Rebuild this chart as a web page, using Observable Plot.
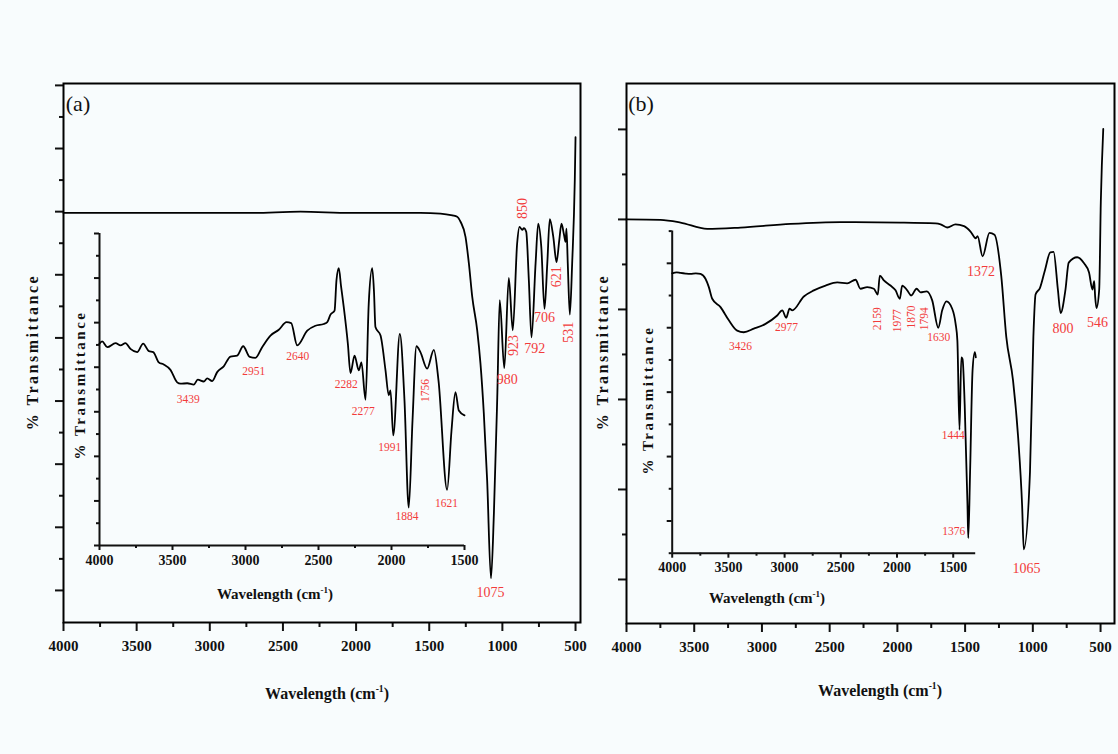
<!DOCTYPE html>
<html><head><meta charset="utf-8">
<script src="https://cdn.jsdelivr.net/npm/d3@7"></script>
<script src="https://cdn.jsdelivr.net/npm/@observablehq/plot@0.6"></script>
<style>
body{margin:0;background:#f8fcfd;}
#wrap{position:relative;width:1118px;height:754px;overflow:hidden;background:#f8fcfd;font-family:"Liberation Serif",serif;color:#111;}
.layer{position:absolute;left:0;top:0;width:1118px;height:754px;}
.t{position:absolute;white-space:nowrap;font-weight:bold;transform:translate(-50%,-50%);}
.rot{transform:translate(-50%,-50%) rotate(-90deg);letter-spacing:2.5px;}
.pl{position:absolute;font-size:22px;transform:translate(-50%,-50%);}
sup{font-size:0.6em;}
</style></head><body>
<div id="wrap">
  <div class="layer" id="mainA"></div>
  <div class="layer" id="insetA"></div>
  <div class="layer" id="mainB"></div>
  <div class="layer" id="insetB"></div>
  <div class="pl" style="left:78px;top:104px">(a)</div>
  <div class="pl" style="left:641px;top:104px">(b)</div>
  <div class="t rot" style="left:33px;top:352px;font-size:16px">% Transmittance</div>
  <div class="t rot" style="left:603px;top:352px;font-size:16px">% Transmittance</div>
  <div class="t rot" style="left:80px;top:385px;font-size:15px">% Transmittance</div>
  <div class="t rot" style="left:648px;top:400px;font-size:15px">% Transmittance</div>
  <div class="t" style="left:327px;top:693px;font-size:16px">Wavelength (cm<sup>-1</sup>)</div>
  <div class="t" style="left:880px;top:690px;font-size:16px">Wavelength (cm<sup>-1</sup>)</div>
  <div class="t" style="left:275px;top:594px;font-size:15px">Wavelength (cm<sup>-1</sup>)</div>
  <div class="t" style="left:767px;top:598px;font-size:15px">Wavelength (cm<sup>-1</sup>)</div>
</div>
<script>
// ---------- DATA ----------
// Panel (a) main spectrum
const aMainWn = [4000,3405,2722,2380,2038,1560,1423,1341,1309,1286,1252,1229,1206,1172,1150,1127,1104,1078,1058,1035,1018,987,956,929,899,883,864,853,837,819,801,773,755,734,712,693,676,652,630,611,596,580,568,562,553,539,523,505,500];
const aMainT  = [59.8,59.8,59.8,60.0,59.8,59.8,59.7,59.4,59.2,58.4,56.0,51.8,46.5,41.2,36.0,28.1,17.4,1.9,12.2,30.6,46.0,35.2,49.5,41.2,55.0,57.6,57.1,57.4,56.8,49.1,40.1,51.8,58.1,54.4,44.6,51.8,58.8,56.0,52.0,55.5,58.1,56.5,55.2,57.3,51.8,43.7,51.8,65.0,71.8];
// Panel (a) inset spectrum
const aInsetWn = [4000,3982,3947,3890,3856,3822,3788,3742,3701,3662,3632,3594,3560,3514,3468,3445,3399,3354,3327,3286,3262,3228,3194,3149,3103,3057,3016,2971,2932,2886,2829,2772,2719,2687,2646,2577,2521,2464,2440,2418,2390,2377,2361,2345,2327,2299,2281,2253,2224,2206,2178,2156,2132,2120,2110,2075,2041,2019,2007,1988,1943,1911,1882,1856,1829,1802,1756,1710,1678,1619,1589,1562,1539,1500];
const aInsetT  = [45.3,45.8,44.5,45.4,44.9,45.4,44.1,43.4,45.3,43.6,43.4,41.1,40.6,39.4,36.6,36.3,36.4,36.1,37.2,36.8,37.5,36.9,38.9,40.2,42.4,42.6,44.7,42.3,42.1,44.5,47.1,48.4,50.1,49.9,44.9,48.2,49.3,49.7,50.1,51.8,52.7,59.5,62.2,58.0,53.5,45.3,38.7,42.6,39.3,41.1,32.7,54.2,62.2,57.0,49.0,47.1,39.3,33.7,34.8,24.7,47.5,32.5,8.5,28.1,44.7,43.4,39.7,43.9,37.0,12.5,25.8,34.4,30.3,29.2];
// Panel (b) main spectrum
const bMainWn = [4000,3749,3601,3404,3158,2789,2420,1977,1718,1681,1632,1571,1508,1460,1421,1408,1371,1320,1283,1233,1196,1146,1108,1079,1067,1021,996,980,947,909,871,847,815,795,759,735,672,623,585,560,547,540,530,510,498,480];
const bMainT  = [80.0,79.9,79.3,77.9,78.2,79.0,79.4,79.3,79.1,78.9,78.2,78.9,78.5,77.3,75.8,76.3,71.8,77.0,76.6,67.4,53.9,44.2,31.4,16.4,6.7,23.9,53.9,63.3,64.8,68.9,72.7,72.8,64.4,59.2,64.4,70.4,71.6,70.3,68.2,64.4,66.3,62.9,60.3,64.4,84.0,100.1];
// Panel (b) inset spectrum
const bInsetWn = [4000,3960,3926,3880,3837,3790,3748,3704,3674,3644,3570,3496,3422,3363,3274,3170,3066,3021,2986,2956,2932,2829,2740,2636,2532,2443,2369,2325,2265,2206,2171,2153,2117,2058,2013,1975,1954,1909,1874,1826,1791,1737,1687,1633,1598,1560,1509,1479,1463,1444,1428,1417,1398,1373,1366,1350,1328,1308,1299];
const bInsetT  = [86.9,87.2,87.0,86.8,86.7,86.9,86.7,85.2,82.6,79.0,76.4,72.3,69.1,68.6,69.7,71.2,73.8,75.4,73.1,75.9,75.4,79.7,81.6,83.1,84.1,83.8,84.9,82.1,82.6,82.1,80.3,86.2,84.7,83.1,81.6,79.0,83.1,81.6,80.0,82.1,81.0,81.3,78.5,70.0,75.4,78.2,75.9,71.3,66.0,38.3,60.8,60.3,46.2,14.8,4.7,25.2,56.7,62.4,60.8];

// Peak annotations: label, anchor wavenumber, anchor transmittance, rotated?
const aMainPeaks   = ["1075","980","923","850","792","706","621","531"];
const aMainPeakX   = [1081,967,922,864,778,712,630,546];
const aMainPeakY   = [-0.3,33.4,38.8,60.5,38.3,43.2,49.7,40.9];
const aMainPeakRot = [false,false,true,true,false,false,true,true];

const aInsetPeaks   = ["3439","2951","2640","2282","2277","1991","1884","1756","1621"];
const aInsetPeakX   = [3392,2943,2642,2310,2194,2012,1893,1767,1623];
const aInsetPeakY   = [32.8,39.0,42.4,36.1,30.1,22.1,6.5,34.8,9.5];
const aInsetPeakRot = [false,false,false,false,false,false,false,true,false];

const bMainPeaks   = ["1372","1065","800","546"];
const bMainPeakX   = [1383,1046,777,522];
const bMainPeakY   = [68.5,2.5,55.8,57.1];

const bInsetPeaks   = ["3426","2977","2159","1977","1870","1794","1630","1444","1376"];
const bInsetPeakX   = [3392,2983,2171,1993,1874,1761,1628,1500,1495];
const bInsetPeakY   = [64.2,70.0,72.8,72.2,73.3,72.8,66.9,36.5,6.7];
const bInsetPeakRot = [false,false,true,true,true,true,false,false,false];

// Tick values
const mainXMajor  = [4000,3500,3000,2500,2000,1500,1000,500];
const mainXMinor  = [3750,3250,2750,2250,1750,1250,750];
const insetXMajor = [4000,3500,3000,2500,2000,1500];
const insetXMinor = [3750,3250,2750,2250,1750];
const aMainYMajor = [0,10,20,30,40,50,60,70,80];
const aMainYMinor = [5,15,25,35,45,55,65,75];
const bMainYMajor = [0,20,40,60,80,100];
const bMainYMinor = [10,30,50,70,90];
const aInsetYMajor = [0,10,20,30,40,50,60,70];
const aInsetYMinor = [5,15,25,35,45,55,65];
const bInsetYMajor = [10,30,50,70,90];
const bInsetYMinor = [0,20,40,60,80,100];

// ---------- DRAWING ----------
const W = 1118, H = 754;
const RED = "#f23b3b";
const FONT = "Liberation Serif";
const toRows = (wn, t) => wn.map((w, i) => ({w, t: t[i]}));
const blank = () => "";

function peakMarks(labels, xs, ys, rots, size) {
  const idx = d3.range(labels.length);
  const horiz = idx.filter(i => !(rots && rots[i]));
  const vert = idx.filter(i => rots && rots[i]);
  const common = {x: i => xs[i], y: i => ys[i], text: i => labels[i], fill: RED, fontSize: size, fontFamily: FONT};
  return [Plot.text(horiz, common), Plot.text(vert, {...common, rotate: -90})];
}

function panel(cfg) {
  return Plot.plot({
    width: W, height: H,
    marginLeft: cfg.left, marginRight: W - cfg.right, marginTop: cfg.top, marginBottom: H - cfg.bottom,
    style: {background: "transparent", overflow: "visible", color: "#111"},
    x: {domain: cfg.xDomain, axis: null},
    y: {domain: cfg.yDomain, axis: null},
    marks: [
      Plot.axisX(cfg.xMinor, {tickSize: cfg.xMinorSize, tickFormat: blank, strokeWidth: 2, label: null}),
      Plot.axisX(cfg.xMajor, {tickSize: cfg.xMajorSize, tickPadding: cfg.pad, tickFormat: d => String(d), strokeWidth: 2,
        fontSize: cfg.tickFont, fontWeight: "bold", fontFamily: FONT, label: null}),
      Plot.axisY(cfg.yMinor, {tickSize: cfg.yMinorSize, tickFormat: blank, strokeWidth: 2, label: null}),
      Plot.axisY(cfg.yMajor, {tickSize: cfg.yMajorSize, tickFormat: blank, strokeWidth: 2, label: null}),
      ...(cfg.frame ? [Plot.frame({stroke: "#000", strokeWidth: 2})]
                    : [Plot.ruleX([cfg.xDomain[0]], {strokeWidth: 2}), Plot.ruleY([cfg.yDomain[0]], {strokeWidth: 2})]),
      Plot.line(cfg.rows, {x: "w", y: "t", curve: "monotone-x", stroke: "#000", strokeWidth: 1.8}),
      ...cfg.labels
    ]
  });
}

document.getElementById("mainA").append(panel({
  left: 63, right: 580, top: 83, bottom: 622, frame: true,
  xDomain: [4000, 466], yDomain: [-5.08, 80.3],
  xMajor: mainXMajor, xMinor: mainXMinor, xMajorSize: 9, xMinorSize: 5, pad: 9, tickFont: 15,
  yMajor: aMainYMajor, yMinor: aMainYMinor, yMajorSize: 8, yMinorSize: 4,
  rows: toRows(aMainWn, aMainT),
  labels: peakMarks(aMainPeaks, aMainPeakX, aMainPeakY, aMainPeakRot, 14)
}));

document.getElementById("insetA").append(panel({
  left: 99, right: 464, top: 233, bottom: 545, frame: false,
  xDomain: [4000, 1500], yDomain: [0, 70],
  xMajor: insetXMajor, xMinor: insetXMinor, xMajorSize: 5, xMinorSize: 3, pad: 5, tickFont: 14,
  yMajor: aInsetYMajor, yMinor: aInsetYMinor, yMajorSize: 5, yMinorSize: 3,
  rows: toRows(aInsetWn, aInsetT),
  labels: peakMarks(aInsetPeaks, aInsetPeakX, aInsetPeakY, aInsetPeakRot, 11.5)
}));

document.getElementById("mainB").append(panel({
  left: 626, right: 1114, top: 83, bottom: 623, frame: true,
  xDomain: [4000, 397], yDomain: [-9.78, 110.2],
  xMajor: mainXMajor, xMinor: mainXMinor, xMajorSize: 9, xMinorSize: 5, pad: 9, tickFont: 15,
  yMajor: bMainYMajor, yMinor: bMainYMinor, yMajorSize: 8, yMinorSize: 4,
  rows: toRows(bMainWn, bMainT),
  labels: peakMarks(bMainPeaks, bMainPeakX, bMainPeakY, null, 14)
}));

document.getElementById("insetB").append(panel({
  left: 671.7, right: 975.2, top: 230.6, bottom: 552.7, frame: false,
  xDomain: [4000, 1300], yDomain: [0, 100],
  xMajor: insetXMajor, xMinor: insetXMinor, xMajorSize: 5, xMinorSize: 3, pad: 4, tickFont: 14,
  yMajor: bInsetYMajor, yMinor: bInsetYMinor, yMajorSize: 5, yMinorSize: 3,
  rows: toRows(bInsetWn, bInsetT),
  labels: peakMarks(bInsetPeaks, bInsetPeakX, bInsetPeakY, bInsetPeakRot, 11.5)
}));
</script>
</body></html>
